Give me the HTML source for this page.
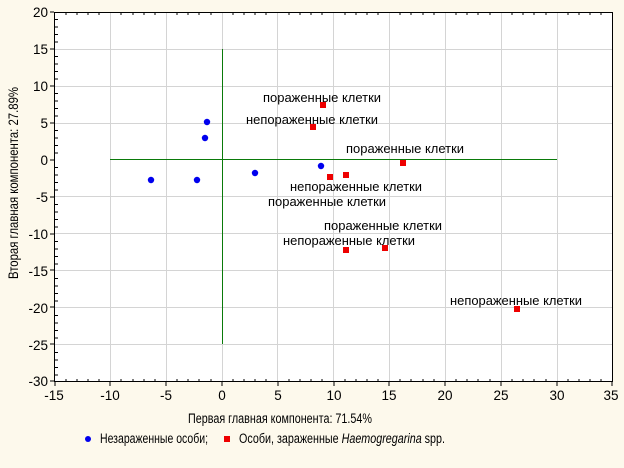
<!DOCTYPE html>
<html><head><meta charset="utf-8"><style>
html,body{margin:0;padding:0;background:#fdf9ec;}
svg{display:block;font-family:"Liberation Sans",Arial,sans-serif;}
</style></head><body>
<svg width="624" height="468" xmlns="http://www.w3.org/2000/svg">
<rect width="624" height="468" fill="#fdf9ec"/>
<rect x="54.5" y="12.5" width="558" height="369" fill="#fff"/>
<g stroke="#d4d4d4" stroke-width="1">
<line x1="110.5" y1="13" x2="110.5" y2="381"/><line x1="166.5" y1="13" x2="166.5" y2="381"/><line x1="222.5" y1="13" x2="222.5" y2="381"/><line x1="277.5" y1="13" x2="277.5" y2="381"/><line x1="333.5" y1="13" x2="333.5" y2="381"/><line x1="389.5" y1="13" x2="389.5" y2="381"/><line x1="445.5" y1="13" x2="445.5" y2="381"/><line x1="501.5" y1="13" x2="501.5" y2="381"/><line x1="557.5" y1="13" x2="557.5" y2="381"/>
<line x1="55" y1="49.5" x2="612" y2="49.5"/><line x1="55" y1="86.5" x2="612" y2="86.5"/><line x1="55" y1="123.5" x2="612" y2="123.5"/><line x1="55" y1="196.5" x2="612" y2="196.5"/><line x1="55" y1="233.5" x2="612" y2="233.5"/><line x1="55" y1="270.5" x2="612" y2="270.5"/><line x1="55" y1="307.5" x2="612" y2="307.5"/><line x1="55" y1="344.5" x2="612" y2="344.5"/>
</g>
<line x1="222.5" y1="49" x2="222.5" y2="344" stroke="#0a7a0a"/>
<line x1="110" y1="159.5" x2="557" y2="159.5" stroke="#0a7a0a"/>
<rect x="54.5" y="12.5" width="558" height="369" fill="none" stroke="#000"/>
<g stroke="#000">
<path d="M66 12v3M77 12v3M88 12v3M99 12v3M121 12v3M133 12v3M144 12v3M155 12v3M177 12v3M188 12v3M199 12v3M211 12v3M233 12v3M244 12v3M255 12v3M266 12v3M289 12v3M300 12v3M311 12v3M322 12v3M345 12v3M356 12v3M367 12v3M378 12v3M400 12v3M411 12v3M423 12v3M434 12v3M456 12v3M467 12v3M478 12v3M490 12v3M512 12v3M523 12v3M534 12v3M546 12v3M568 12v3M579 12v3M590 12v3M601 12v3"/>
<path d="M66 382v-3M77 382v-3M88 382v-3M99 382v-3M121 382v-3M133 382v-3M144 382v-3M155 382v-3M177 382v-3M188 382v-3M199 382v-3M211 382v-3M233 382v-3M244 382v-3M255 382v-3M266 382v-3M289 382v-3M300 382v-3M311 382v-3M322 382v-3M345 382v-3M356 382v-3M367 382v-3M378 382v-3M400 382v-3M411 382v-3M423 382v-3M434 382v-3M456 382v-3M467 382v-3M478 382v-3M490 382v-3M512 382v-3M523 382v-3M534 382v-3M546 382v-3M568 382v-3M579 382v-3M590 382v-3M601 382v-3"/>
<path d="M54 12h-4M54 49h-4M54 86h-4M54 123h-4M54 160h-4M54 197h-4M54 234h-4M54 270h-4M54 307h-4M54 344h-4M54 381h-4M55 382v4M110 382v4M166 382v4M222 382v4M278 382v4M334 382v4M389 382v4M445 382v4M501 382v4M557 382v4M612 382v4"/>
<path d="M55 19.5h3M55 27h3M55 34.5h3M55 42h3M55 56.5h3M55 64h3M55 71.5h3M55 79h3M55 93.5h3M55 101h3M55 108.5h3M55 116h3M55 130.5h3M55 138h3M55 145.5h3M55 153h3M55 167.5h3M55 175h3M55 182.5h3M55 190h3M55 204.5h3M55 212h3M55 219.5h3M55 227h3M55 241.5h3M55 249h3M55 256.5h3M55 264h3M55 278.5h3M55 286h3M55 293.5h3M55 301h3M55 315.5h3M55 323h3M55 330.5h3M55 338h3M55 352.5h3M55 360h3M55 367.5h3M55 375h3"/>
</g>
<g font-size="13.5" fill="#000" text-anchor="end">
<text x="48" y="17">20</text><text x="48" y="54">15</text><text x="48" y="91">10</text><text x="48" y="128">5</text><text x="48" y="165">0</text><text x="48" y="202">-5</text><text x="48" y="239">-10</text><text x="48" y="276">-15</text><text x="48" y="313">-20</text><text x="48" y="350">-25</text><text x="48" y="386">-30</text>
</g>
<g font-size="13.5" fill="#000" text-anchor="middle">
<text x="54" y="400">-15</text><text x="110" y="400">-10</text><text x="166" y="400">-5</text><text x="222" y="400">0</text><text x="278" y="400">5</text><text x="334" y="400">10</text><text x="389" y="400">15</text><text x="445" y="400">20</text><text x="501" y="400">25</text><text x="557" y="400">30</text><text x="611" y="400">35</text>
</g>
<g font-size="13.5" fill="#000">
<text x="188" y="423" textLength="184" lengthAdjust="spacingAndGlyphs">Первая главная компонента: 71.54%</text>
<text transform="translate(18,279) rotate(-90)" textLength="192" lengthAdjust="spacingAndGlyphs">Вторая главная компонента: 27.89%</text>
<text x="100" y="443" textLength="108" lengthAdjust="spacingAndGlyphs">Незараженные особи;</text>
<text x="239" y="443" textLength="206" lengthAdjust="spacingAndGlyphs">Особи, зараженные <tspan font-style="italic">Haemogregarina</tspan> spp.</text>
</g>
<circle cx="88" cy="439" r="3" fill="#0000ee"/>
<rect x="224" y="436" width="6" height="6" fill="#ee0000"/>
<g fill="#0000ee">
<circle cx="151" cy="180" r="3.2"/><circle cx="197" cy="180" r="3.2"/><circle cx="205" cy="138" r="3.2"/><circle cx="207" cy="122" r="3.2"/><circle cx="255" cy="173" r="3.2"/><circle cx="321" cy="166" r="3.2"/>
</g>
<g fill="#ee0000">
<rect x="320" y="102" width="6" height="6"/><rect x="310" y="124" width="6" height="6"/><rect x="400" y="160" width="6" height="6"/><rect x="327" y="174" width="6" height="6"/><rect x="343" y="172" width="6" height="6"/><rect x="343" y="247" width="6" height="6"/><rect x="382" y="245" width="6" height="6"/><rect x="514" y="306" width="6" height="6"/>
</g>
<g font-size="13" fill="#000">
<text x="263" y="102" textLength="118" lengthAdjust="spacingAndGlyphs">пораженные клетки</text>
<text x="246" y="124" textLength="132" lengthAdjust="spacingAndGlyphs">непораженные клетки</text>
<text x="346" y="153" textLength="118" lengthAdjust="spacingAndGlyphs">пораженные клетки</text>
<text x="290" y="191" textLength="132" lengthAdjust="spacingAndGlyphs">непораженные клетки</text>
<text x="268" y="206" textLength="118" lengthAdjust="spacingAndGlyphs">пораженные клетки</text>
<text x="324" y="230" textLength="118" lengthAdjust="spacingAndGlyphs">пораженные клетки</text>
<text x="283" y="245" textLength="132" lengthAdjust="spacingAndGlyphs">непораженные клетки</text>
<text x="450" y="305" textLength="132" lengthAdjust="spacingAndGlyphs">непораженные клетки</text>
</g>
</svg>
</body></html>
